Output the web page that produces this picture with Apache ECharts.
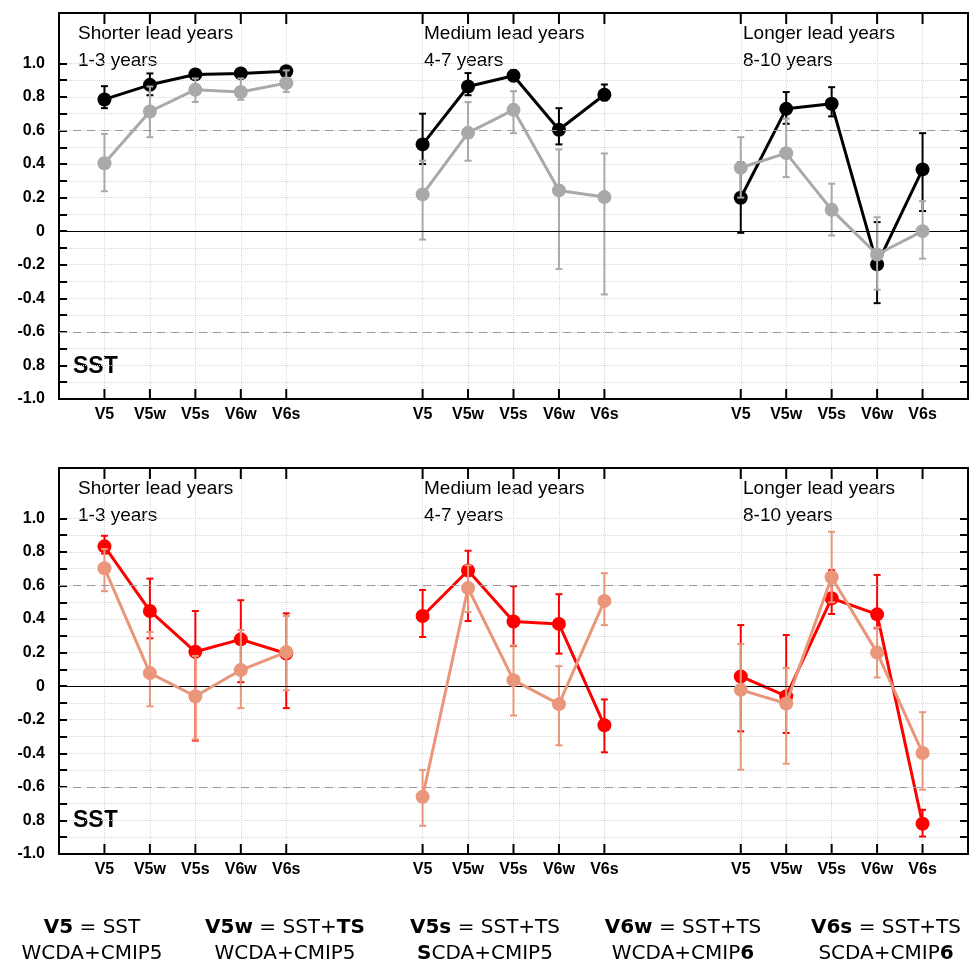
<!DOCTYPE html>
<html>
<head>
<meta charset="utf-8">
<script src="https://cdn.jsdelivr.net/npm/echarts@6/dist/echarts.min.js"></script>
<style>
  html, body { margin: 0; padding: 0; background: #fff; }
  #chart { width: 971px; height: 963px; }
</style>
</head>
<body>
<div id="chart"></div>
<script>
// models on the x axis, repeated in three lead-time groups
const models = ['V5', 'V5w', 'V5s', 'V6w', 'V6s'];
const groupTitles = ['Shorter lead years', 'Medium lead years', 'Longer lead years'];
const groupYears = ['1-3 years', '4-7 years', '8-10 years'];

// y ticks (every 0.1) and labelled values (every 0.2)
const yTicks = [-1, -0.9, -0.8, -0.7, -0.6, -0.5, -0.4, -0.3, -0.2, -0.1, 0,
  0.1, 0.2, 0.3, 0.4, 0.5, 0.6, 0.7, 0.8, 0.9, 1];
const yLabelValues = [1, 0.8, 0.6, 0.4, 0.2, 0, -0.2, -0.4, -0.6, -0.8, -1];
const yTickLabels = ['1.0', '0.8', '0.6', '0.4', '0.2', '0', '-0.2', '-0.4', '-0.6', '0.8', '-1.0'];

// top panel (black / gray)
const blackVal  = [0.785, 0.872, 0.934, 0.940, 0.953,  0.517, 0.862, 0.926, 0.604, 0.813,  0.199, 0.729, 0.759, -0.198, 0.368];
const blackLow  = [0.733, 0.810, 0.910, 0.920, 0.940,  0.400, 0.810, 0.900, 0.517, 0.780, -0.010, 0.640, 0.684, -0.429, 0.120];
const blackHigh = [0.864, 0.940, 0.955, 0.960, 0.970,  0.700, 0.942, 0.960, 0.733, 0.874,  0.410, 0.829, 0.858,  0.054, 0.584];
const grayVal   = [0.405, 0.713, 0.843, 0.829, 0.882,  0.219, 0.586, 0.723, 0.243, 0.203,  0.378, 0.465, 0.127, -0.139, 0.000];
const grayLow   = [0.238, 0.560, 0.770, 0.783, 0.830, -0.050, 0.420, 0.584, -0.226, -0.377, 0.200, 0.322, -0.026, -0.349, -0.164];
const grayHigh  = [0.580, 0.862, 0.910, 0.910, 0.958,  0.420, 0.769, 0.834, 0.487, 0.463,  0.560, 0.670, 0.283,  0.083, 0.179];

// bottom panel (red / salmon)
const redVal    = [0.833, 0.448, 0.205, 0.279, 0.195,  0.418, 0.689, 0.385, 0.371, -0.233,  0.058, -0.060, 0.524, 0.428, -0.820];
const redLow    = [0.790, 0.285, -0.324, 0.024, -0.131, 0.293, 0.388, 0.239, 0.194, -0.394, -0.269, -0.279, 0.430, 0.345, -0.896];
const redHigh   = [0.896, 0.641, 0.448, 0.512, 0.434,  0.573, 0.807, 0.596, 0.548, -0.079,  0.364, 0.305, 0.691, 0.663, -0.737];
const salmonVal  = [0.703, 0.078, -0.060, 0.096, 0.203, -0.659, 0.585, 0.036, -0.107, 0.508, -0.022, -0.103, 0.649, 0.200, -0.398];
const salmonLow  = [0.566, -0.120, -0.318, -0.131, -0.024, -0.832, 0.442, -0.175, -0.352, 0.364, -0.498, -0.462, 0.500, 0.052, -0.617];
const salmonHigh = [0.817, 0.323, 0.180, 0.335, 0.418, -0.500, 0.720, 0.243, 0.119, 0.673,  0.251, 0.108, 0.920, 0.350, -0.155];

// legend under the panels
const legendLine1 = ['{b|V5} = SST', '{b|V5w} = SST+{b|TS}', '{b|V5s} = SST+TS', '{b|V6w} = SST+TS', '{b|V6s} = SST+TS'];
const legendLine2 = ['WCDA+CMIP5', 'WCDA+CMIP5', '{b|S}CDA+CMIP5', 'WCDA+CMIP{b|6}', 'SCDA+CMIP{b|6}'];

// x slots: gap, 5 models, 2 gaps, 5 models, 2 gaps, 5 models, gap
const slots = [''].concat(models, ['', ''], models, ['', ''], models, ['']);
const slotOf = i => 1 + Math.floor(i / 5) * 7 + (i % 5);

const lineData = vals => {
  const d = slots.map(() => '-');
  vals.forEach((v, i) => { d[slotOf(i)] = v; });
  return d;
};
const errData = (lo, hi) => lo.map((l, i) => [slotOf(i), l, hi[i]]);

// error bar with caps; the first series of a panel also puts the
// category ticks on the top and bottom frame edges
const renderErr = (color, withTicks) => (params, api) => {
  const x = api.value(0);
  const lo = api.coord([x, api.value(1)]);
  const hi = api.coord([x, api.value(2)]);
  const w = 3.5;
  const style = { stroke: color, lineWidth: 2 };
  const children = [
    { type: 'line', shape: { x1: lo[0], y1: lo[1], x2: hi[0], y2: hi[1] }, style },
    { type: 'line', shape: { x1: lo[0] - w, y1: lo[1], x2: lo[0] + w, y2: lo[1] }, style },
    { type: 'line', shape: { x1: hi[0] - w, y1: hi[1], x2: hi[0] + w, y2: hi[1] }, style }
  ];
  if (withTicks) {
    const top = api.coord([x, 1.3]);
    const bot = api.coord([x, -1]);
    const ts = { stroke: '#000', lineWidth: 2 };
    children.push(
      { type: 'line', shape: { x1: top[0], y1: top[1], x2: top[0], y2: top[1] + 11 }, style: ts },
      { type: 'line', shape: { x1: bot[0], y1: bot[1], x2: bot[0], y2: bot[1] - 10 }, style: ts }
    );
  }
  return { type: 'group', children };
};

const isSlot = (idx, val) => val !== '';
const yLabelFmt = v => {
  const k = yLabelValues.findIndex(t => Math.abs(t - v) < 1e-6);
  return k >= 0 ? yTickLabels[k] : '';
};

const grids = [
  { left: 59, right: 3, top: 13, height: 386 },
  { left: 59, right: 3, top: 468, height: 386 }
];

const xAxes = [];
const yAxes = [];
grids.forEach((g, gi) => {
  xAxes.push({
    type: 'category', gridIndex: gi, position: 'bottom', data: slots, boundaryGap: false,
    axisLine: { show: true, onZero: false, lineStyle: { color: '#000', width: 2 } },
    axisTick: { show: false },
    axisLabel: { interval: isSlot, margin: 8, color: '#000', fontFamily: 'Liberation Sans', fontWeight: 'bold', fontSize: 16 },
    splitLine: { show: true, interval: isSlot, lineStyle: { color: '#d8d8d8', type: 'dotted', width: 1 } }
  });
  xAxes.push({
    type: 'category', gridIndex: gi, position: 'top', data: slots, boundaryGap: false,
    axisLine: { show: true, onZero: false, lineStyle: { color: '#000', width: 2 } },
    axisTick: { show: false },
    axisLabel: { show: false },
    splitLine: { show: false }
  });
  yAxes.push({
    type: 'value', gridIndex: gi, position: 'left', min: -1, max: 1.3,
    axisLine: { show: true, onZero: false, lineStyle: { color: '#000', width: 2 } },
    axisTick: { show: true, inside: true, length: 8, customValues: yTicks, lineStyle: { color: '#000', width: 2 } },
    axisLabel: { customValues: yLabelValues, formatter: yLabelFmt, margin: 14, color: '#000',
      fontFamily: 'Liberation Sans', fontWeight: 'bold', fontSize: 16 },
    splitLine: { show: true, lineStyle: { color: '#d8d8d8', type: 'dotted', width: 1 } }
  });
  yAxes.push({
    type: 'value', gridIndex: gi, position: 'right', min: -1, max: 1.3,
    axisLine: { show: true, onZero: false, lineStyle: { color: '#000', width: 2 } },
    axisTick: { show: true, inside: true, length: 8, customValues: yTicks, lineStyle: { color: '#000', width: 2 } },
    axisLabel: { show: false },
    splitLine: { show: false }
  });
});

const refLines = {
  silent: true, symbol: 'none', label: { show: false }, animation: false,
  data: [
    { yAxis: 0, lineStyle: { color: '#000', type: 'solid', width: 1 } },
    { yAxis: 0.6, lineStyle: { color: '#999', type: [8, 6], width: 1 } },
    { yAxis: -0.6, lineStyle: { color: '#999', type: [8, 6], width: 1 } }
  ]
};

const panelSeries = (gi, specs) => {
  const out = [];
  specs.forEach((s, si) => {
    out.push({
      type: 'custom', xAxisIndex: gi * 2, yAxisIndex: gi * 2,
      renderItem: renderErr(s.color, si === 0), data: errData(s.low, s.high),
      encode: { x: 0, y: [1, 2] }, z: 2 + si * 2
    });
    const line = {
      type: 'line', xAxisIndex: gi * 2, yAxisIndex: gi * 2,
      data: lineData(s.val), connectNulls: false,
      symbol: 'circle', symbolSize: 14, showSymbol: true,
      lineStyle: { color: s.color, width: 3 }, itemStyle: { color: s.color },
      z: 3 + si * 2
    };
    if (si === 0) line.markLine = refLines;
    out.push(line);
  });
  return out;
};

const series = [].concat(
  panelSeries(0, [
    { color: '#000000', val: blackVal, low: blackLow, high: blackHigh },
    { color: '#a9a9a9', val: grayVal, low: grayLow, high: grayHigh }
  ]),
  panelSeries(1, [
    { color: '#ff0000', val: redVal, low: redLow, high: redHigh },
    { color: '#e9967a', val: salmonVal, low: salmonLow, high: salmonHigh }
  ])
);

// text overlays
const titleX = [78, 424, 743];
const graphics = [];
[20.5, 475.5].forEach(top => {
  groupTitles.forEach((t, i) => {
    graphics.push({
      type: 'text', x: titleX[i], y: top,
      style: { text: t + '\n' + groupYears[i], font: '19px "Liberation Sans"', fill: '#000', lineHeight: 27 }
    });
  });
});
[355, 809].forEach(top => {
  graphics.push({
    type: 'text', x: 73, y: top,
    style: { text: 'SST', font: 'bold 23px "Liberation Sans"', fill: '#000' }
  });
});
const legendX = [92, 285, 485, 683, 886];
legendLine1.forEach((l1, i) => {
  graphics.push({
    type: 'text', x: legendX[i], y: 941,
    style: {
      text: l1 + '\n' + legendLine2[i], align: 'center', verticalAlign: 'middle',
      font: '20px "DejaVu Sans"', fill: '#000', lineHeight: 26,
      rich: { b: { fontWeight: 'bold', fontFamily: 'DejaVu Sans', fontSize: 20, lineHeight: 26 } }
    }
  });
});

const chart = echarts.init(document.getElementById('chart'));
chart.setOption({
  animation: false,
  backgroundColor: '#fff',
  grid: grids,
  xAxis: xAxes,
  yAxis: yAxes,
  series: series,
  graphic: graphics
});
</script>
</body>
</html>
